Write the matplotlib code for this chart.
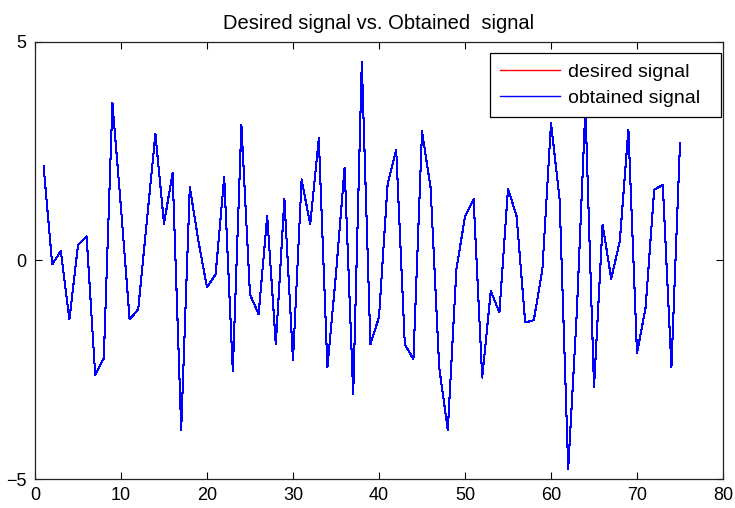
import numpy as np
import matplotlib
matplotlib.use("Agg")
import matplotlib.pyplot as plt

# sample index and signal values
n = np.arange(1, 76)
obtained = [2.15, -0.09, 0.21, -1.35, 0.35, 0.55, -2.62, -2.24, 3.6, 1.2,
            -1.35, -1.12, 0.89, 2.89, 0.84, 2.0, -3.88, 1.68, 0.44, -0.62,
            -0.32, 1.9, -2.53, 3.1, -0.78, -1.23, 1.01, -1.92, 1.4, -2.28,
            1.85, 0.82, 2.79, -2.45, -0.3, 2.12, -3.06, 4.54, -1.92, -1.3,
            1.74, 2.53, -1.92, -2.26, 2.95, 1.66, -2.45, -3.88, -0.2, 1.0,
            1.4, -2.68, -0.7, -1.19, 1.64, 1.01, -1.42, -1.37, -0.2, 3.14,
            1.4, -4.77, -1.2, 3.5, -2.9, 0.82, -0.42, 0.44, 2.99, -2.13,
            -1.08, 1.62, 1.72, -2.45, 2.69]
desired = list(obtained)

xticks = [0, 10, 20, 30, 40, 50, 60, 70, 80]
yticks = [-5, 0, 5]

plt.rcParams['font.family'] = ['Liberation Sans Narrow', 'Liberation Sans', 'DejaVu Sans']

fig = plt.figure(figsize=(7.35, 5.08), dpi=100)
ax = fig.add_axes([35 / 735, 29 / 508, 688 / 735, 437.3 / 508])

# desired signal sits right under the obtained one
ax.plot(n, desired, color='red', linewidth=0.75, antialiased=False,
        label='desired signal  ')
ax.plot(n, obtained, color='blue', linewidth=0.75, antialiased=False,
        label='obtained signal  ')

ax.set_xlim(0, 80)
ax.set_ylim(-5, 5)
ax.set_xticks(xticks)
ax.set_yticks(yticks)
ax.tick_params(direction='in', length=5, width=0.8, top=True, right=True,
               labelsize=13, pad=6)
for s in ax.spines.values():
    s.set_linewidth(0.9)
    s.set_color('#222222')

ax.set_title('Desired signal vs. Obtained  signal', fontsize=14.5, pad=9)

leg = ax.legend(loc='upper right', bbox_to_anchor=(0.9967, 0.9735),
                borderaxespad=0, fancybox=False, framealpha=1,
                edgecolor='black', handlelength=3.1,
                prop={'family': 'Liberation Sans', 'size': 14},
                borderpad=0.5, labelspacing=0.45, handletextpad=0.4)
leg.get_frame().set_linewidth(0.9)
for line in leg.get_lines():
    line.set_linewidth(1.0)

fig.savefig('out.png', dpi=100)
